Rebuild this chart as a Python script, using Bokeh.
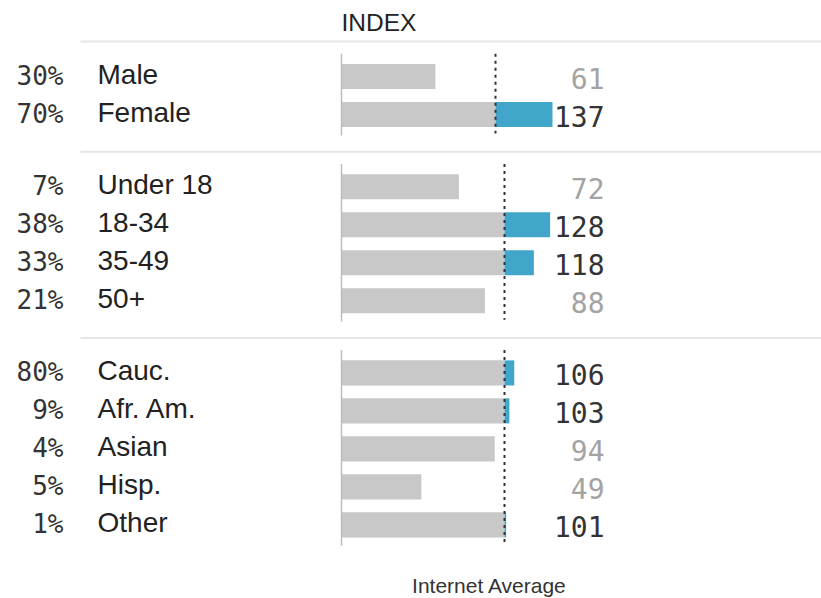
from bokeh.plotting import figure
from bokeh.models import ColumnDataSource, Range1d
from bokeh.core.properties import value
from bokeh.embed import file_html
from bokeh.resources import INLINE

# ---- data ----
categories = ["Male", "Female", "Under 18", "18-34", "35-49", "50+",
              "Cauc.", "Afr. Am.", "Asian", "Hisp.", "Other"]
shares = ["30%", "70%", "7%", "38%", "33%", "21%", "80%", "9%", "4%", "5%", "1%"]
index_values = [61, 137, 72, 128, 118, 88, 106, 103, 94, 49, 101]
group_ids = [0, 0, 1, 1, 1, 1, 2, 2, 2, 2, 2]
average = 100
header = "INDEX"
footer = "Internet Average"

# ---- layout constants ----
W, H = 821, 598
PX_PER_UNIT = 1.62                    # main (text) scale
GROUP_PX_PER_UNIT = [1.54, 1.63, 1.63]  # each panel has its own bar scale
BAR_START_PX = 341
ROW_PX = 38
FIRST_ROW_PX = 76
GAP = 0.9

x_start = -BAR_START_PX / PX_PER_UNIT
x_end = x_start + W / PX_PER_UNIT
y_top = -FIRST_ROW_PX / ROW_PX
y_bottom = y_top + H / ROW_PX

GRAY = "#c8c8c8"
BLUE = "#42a5ca"
DARK = "#333333"
LIGHT = "#a3a3a3"

ys = [i + g * GAP for i, g in enumerate(group_ids)]

p = figure(width=W, height=H, output_backend="svg", toolbar_location=None,
           x_range=Range1d(x_start, x_end), y_range=Range1d(y_bottom, y_top),
           min_border=0, outline_line_color=None)
p.axis.visible = False
p.grid.visible = False
p.background_fill_color = "white"
p.border_fill_color = "white"

groups = sorted(set(group_ids))

# separators (full width, main scale)
g_first = [min(y for y, g in zip(ys, group_ids) if g == k) for k in groups]
g_last = [max(y for y, g in zip(ys, group_ids) if g == k) for k in groups]
sep_x0 = (80 - BAR_START_PX) / PX_PER_UNIT
sep_y = [f - 0.92 for f in g_first]
p.segment(x0=sep_x0, x1=x_end, y0=sep_y, y1=sep_y, line_color="#e6e6e6", line_width=2)

for k in groups:
    s = GROUP_PX_PER_UNIT[k]
    rname = f"g{k}"
    p.extra_x_ranges[rname] = Range1d(-BAR_START_PX / s, (W - BAR_START_PX) / s)
    gy = [y for y, g in zip(ys, group_ids) if g == k]
    gv = [v for v, g in zip(index_values, group_ids) if g == k]
    src = ColumnDataSource(dict(y=gy, right=[min(v, average) for v in gv]))
    p.hbar(y="y", left=0, right="right", height=0.66, source=src,
           fill_color=GRAY, line_color=None, x_range_name=rname)
    ab = [(y, v) for y, v in zip(gy, gv) if v > average]
    if ab:
        bsrc = ColumnDataSource(dict(y=[a[0] for a in ab], right=[a[1] for a in ab]))
        p.hbar(y="y", left=average, right="right", height=0.66, source=bsrc,
               fill_color=BLUE, line_color=None, x_range_name=rname)
    p.segment(x0=[0], x1=[0], y0=[g_first[k] - 0.6], y1=[g_last[k] + 0.55],
              line_color="#bdbdbd", line_width=1.5, x_range_name=rname)
    p.segment(x0=[average], x1=[average], y0=[g_first[k] - 0.6], y1=[g_last[k] + 0.5],
              line_color="#333333", line_width=2, line_dash="3 4", x_range_name=rname)

# texts
pct_x = (63 - BAR_START_PX) / PX_PER_UNIT
lab_x = (97 - BAR_START_PX) / PX_PER_UNIT
val_x = (604 - BAR_START_PX) / PX_PER_UNIT

txt_src = ColumnDataSource(dict(
    y=ys, pct=shares, cat=categories,
    val=[str(v) for v in index_values],
    vcol=[DARK if v >= average else LIGHT for v in index_values]))

p.text(x=pct_x, y="y", text="pct", source=txt_src, text_align="right",
       text_baseline="middle", text_font=value("DejaVu Sans Mono"),
       text_font_size="26px", text_color=DARK, y_offset=-1)
p.text(x=lab_x, y="y", text="cat", source=txt_src, text_align="left",
       text_baseline="middle", text_font=value("Liberation Sans"),
       text_font_size="28px", text_color="#222222", y_offset=-2)
p.text(x=val_x, y="y", text="val", source=txt_src, text_align="right",
       text_baseline="middle", text_font=value("DejaVu Sans Mono"),
       text_font_size="28px", text_color="vcol", y_offset=2)

p.text(x=[0], y=[y_top + 22 / ROW_PX], text=[header], text_align="left",
       text_baseline="middle", text_font=value("Liberation Sans"),
       text_font_size="24.5px", text_color="#222222")
p.text(x=[average], y=[y_bottom], text=[footer], text_align="center",
       text_baseline="bottom", text_font=value("Liberation Sans"),
       text_font_size="21px", text_color=DARK, x_offset=-14, y_offset=-2)

open("out.html", "w").write(file_html(p, INLINE))
